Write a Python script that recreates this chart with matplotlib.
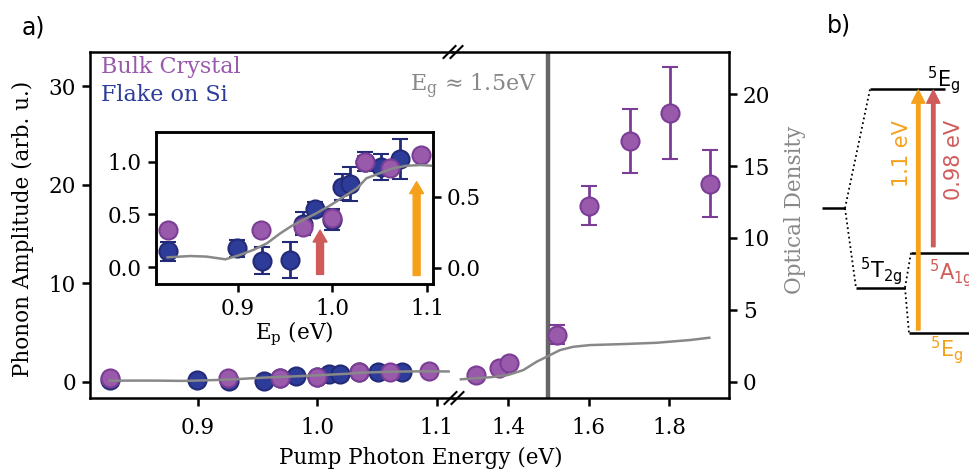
import numpy as np
import matplotlib.pyplot as plt

plt.rcParams['font.family'] = 'DejaVu Serif'
plt.rcParams['mathtext.fontset'] = 'dejavuserif'
plt.rcParams['font.size'] = 15.5

# bulk crystal: pump photon energy (eV), phonon amplitude, error
bulk_E = [0.826, 0.925, 0.969, 1.0, 1.035, 1.061, 1.094,
          1.32, 1.378, 1.402, 1.522, 1.601, 1.702, 1.802, 1.902]
bulk_amp = [0.35, 0.35, 0.38, 0.47, 1.0, 0.94, 1.06,
            0.68, 1.36, 1.93, 4.75, 17.9, 24.5, 27.3, 20.1]
bulk_err = [0.04, 0.04, 0.06, 0.06, 0.05, 0.05, 0.04,
            0.1, 0.1, 0.1, 0.97, 2.0, 3.25, 4.7, 3.4]

# flake on Si
flake_E = [0.826, 0.899, 0.926, 0.955, 0.969, 0.982, 1.0, 1.01, 1.019, 1.035, 1.051, 1.071]
flake_amp = [0.15, 0.18, 0.06, 0.07, 0.41, 0.55, 0.45, 0.76, 0.79, 1.0, 0.95, 1.03]
flake_err = [0.09, 0.08, 0.13, 0.17, 0.11, 0.07, 0.1, 0.12, 0.16, 0.09, 0.12, 0.19]

# optical density
od_low_E = [0.826, 0.85, 0.867, 0.887, 0.902, 0.9165, 0.931, 0.945, 0.957, 0.969, 0.983,
            0.998, 1.012, 1.026, 1.036, 1.05, 1.064, 1.078, 1.093, 1.106, 1.11]
od_low = [0.073, 0.082, 0.078, 0.059, 0.089, 0.125, 0.172, 0.242, 0.294, 0.336, 0.383,
          0.44, 0.5, 0.559, 0.63, 0.665, 0.70, 0.718, 0.723, 0.718, 0.715]
od_high_E = [1.283, 1.355, 1.40, 1.438, 1.471, 1.50, 1.529, 1.562, 1.604, 1.686, 1.769, 1.852, 1.90]
od_high = [0.17, 0.31, 0.47, 0.81, 1.39, 1.79, 2.2, 2.43, 2.55, 2.62, 2.71, 2.9, 3.06]

E_gap = 1.5
pump_arrows = [0.987, 1.089]   # inset arrows (eV)
arrow_top = [0.35, 0.81]
arrow_base = [-0.07, -0.08]

purple, purple_dk = '#9a5aac', '#7b3d96'
navy, navy_dk = '#2d3c99', '#232a78'
orange, red = '#f5a11c', '#d05b5b'
gray = '#888888'

W, H = 969, 471
fig = plt.figure(figsize=(W / 100, H / 100), dpi=100)

def box(x0, y0, x1, y1):
    return [x0 / W, 1 - y1 / H, (x1 - x0) / W, (y1 - y0) / H]

ax1 = fig.add_axes(box(90, 52, 453, 398))
ax2 = fig.add_axes(box(453, 52, 729, 398))
t1 = ax1.twinx()
t2 = ax2.twinx()

def style(ax):
    for s in ax.spines.values():
        s.set_linewidth(1.8)
    ax.tick_params(width=1.8, length=6, direction='out', pad=4)

def points(ax):
    kw = dict(fmt='o', ms=13, mew=1.5, elinewidth=2, capsize=6, capthick=2)
    ax.errorbar(flake_E, flake_amp, yerr=flake_err, mfc=navy, mec=navy_dk, ecolor=navy_dk, **kw)
    ax.errorbar(bulk_E, bulk_amp, yerr=bulk_err, mfc=purple, mec=purple_dk, ecolor=purple_dk, **kw)

for ax in (ax1, ax2, t1, t2):
    style(ax)
for ax in (ax1, ax2):
    ax.tick_params(axis='x', pad=8)

points(ax1)
points(ax2)
ax1.set_xlim(0.8096, 1.1137)
ax2.set_xlim(1.2634, 1.949)
for ax in (ax1, ax2):
    ax.set_ylim(-1.66, 33.5)
ax1.set_xticks([0.9, 1.0, 1.1])
ax2.set_xticks([1.4, 1.6, 1.8])
ax1.set_yticks([0, 10, 20, 30])
ax2.set_yticks([])
ax1.spines['right'].set_visible(False)
ax2.spines['left'].set_visible(False)
ax2.spines['right'].set_visible(False)
ax2.axvline(E_gap, color='#666666', lw=3.2, zorder=0)

t1.plot(od_low_E, od_low, color=gray, lw=1.8)
t2.plot(od_high_E, od_high, color=gray, lw=1.8)
for t in (t1, t2):
    t.set_ylim(-1.13, 22.93)
    t.spines['left'].set_visible(False)
    t.spines['top'].set_visible(False)
    t.spines['bottom'].set_visible(False)
t1.spines['right'].set_visible(False)
t1.set_yticks([])
t2.set_yticks([0, 5, 10, 15, 20])

ax1.set_ylabel('Phonon Amplitude (arb. u.)')
ax1.yaxis.set_label_coords(-0.155, 0.49)
fig.text(421 / W, 1 - 458 / H, 'Pump Photon Energy (eV)', ha='center', va='center')
fig.text(795 / W, 1 - 210 / H, 'Optical Density', color=gray, rotation=90, ha='center', va='center')

ax1.text(0.03, 0.957, 'Bulk Crystal', color=purple, transform=ax1.transAxes, va='center', fontsize=16)
ax1.text(0.03, 0.876, 'Flake on Si', color=navy, transform=ax1.transAxes, va='center', fontsize=16)
ax2.text(0.304, 0.9, r'E$_\mathrm{g}$ ≈ 1.5eV', color=gray, transform=ax2.transAxes,
         ha='right', va='center', fontsize=16)

# break marks
for cx, cy in [(453, 52), (454, 398)]:
    for dx in (-3.5, 3.5):
        fig.add_artist(plt.Line2D([(cx + dx - 6) / W, (cx + dx + 6) / W],
                                  [1 - (cy + 6) / H, 1 - (cy - 6) / H],
                                  color='black', lw=1.5, transform=fig.transFigure))

# inset
axi = fig.add_axes(box(155.7, 131.7, 433, 284))
ti = axi.twinx()
style(axi)
style(ti)
points(axi)
ti.plot(od_low_E, od_low, color=gray, lw=1.8)
axi.set_xlim(0.8134, 1.1063)
axi.set_ylim(-0.161, 1.285)
ti.set_ylim(-0.115, 0.958)
axi.set_xticks([0.9, 1.0, 1.1])
axi.set_yticks([0, 0.5, 1.0])
ti.set_yticks([0, 0.5])
axi.set_xlabel(r'E$_\mathrm{p}$ (eV)', labelpad=0)
for x, top, base, c in zip(pump_arrows, arrow_top, arrow_base, [red, orange]):
    axi.annotate('', xy=(x, top), xytext=(x, base),
                 arrowprops=dict(arrowstyle='simple,head_width=1.0,head_length=0.85,tail_width=0.5',
                                 color=c, shrinkA=0, shrinkB=0, mutation_scale=10))

fig.text(22 / W, 1 - 28 / H, 'a)', family='DejaVu Sans', fontsize=17, va='center')
fig.text(827 / W, 1 - 25 / H, 'b)', family='DejaVu Sans', fontsize=17, va='center')

# panel b: level scheme (pixel-like diagram units)
bx = fig.add_axes([800 / W, 0, 169 / W, 1])
bx.set_xlim(800, 969)
bx.set_ylim(471, 0)
bx.axis('off')
lvl_x0 = [822, 870, 856, 911, 909]
lvl_x1 = [845, 945, 905, 969, 969]
lvl_y = [208.3, 89.3, 287.7, 252.7, 333.3]
for x0, x1, y in zip(lvl_x0, lvl_x1, lvl_y):
    bx.plot([x0, x1], [y, y], color='black', lw=1.8, solid_capstyle='butt')
links = [(0, 1), (0, 2), (2, 3), (2, 4)]
for a, b in links:
    bx.plot([lvl_x1[a], lvl_x0[b]], [lvl_y[a], lvl_y[b]], color='black', lw=1.3, ls=':')

bkw = dict(family='DejaVu Sans', math_fontfamily='dejavusans', fontsize=15)
bx.text(927, 87, r'$^5$E$_\mathrm{g}$', va='baseline', color='black', **bkw)
bx.text(860, 278, r'$^5$T$_\mathrm{2g}$', va='baseline', color='black', **bkw)
bx.text(929, 280, r'$^5$A$_\mathrm{1g}$', va='baseline', color=red, **bkw)
bx.text(930, 357, r'$^5$E$_\mathrm{g}$', va='baseline', color=orange, **bkw)

bx.annotate('', xy=(918.3, 90), xytext=(918.3, 330),
            arrowprops=dict(arrowstyle='simple,head_width=0.95,head_length=0.95,tail_width=0.25',
                            color=orange, shrinkA=0, shrinkB=0, mutation_scale=10))
bx.annotate('', xy=(933.3, 90), xytext=(933.3, 246.7),
            arrowprops=dict(arrowstyle='simple,head_width=0.95,head_length=0.95,tail_width=0.25',
                            color=red, shrinkA=0, shrinkB=0, mutation_scale=10))
bx.text(901.7, 154, '1.1 eV', rotation=90, ha='center', va='center', color=orange, **bkw)
bx.text(954, 160, '0.98 eV', rotation=90, ha='center', va='center', color=red, **bkw)

fig.savefig('out.png', dpi=100)
